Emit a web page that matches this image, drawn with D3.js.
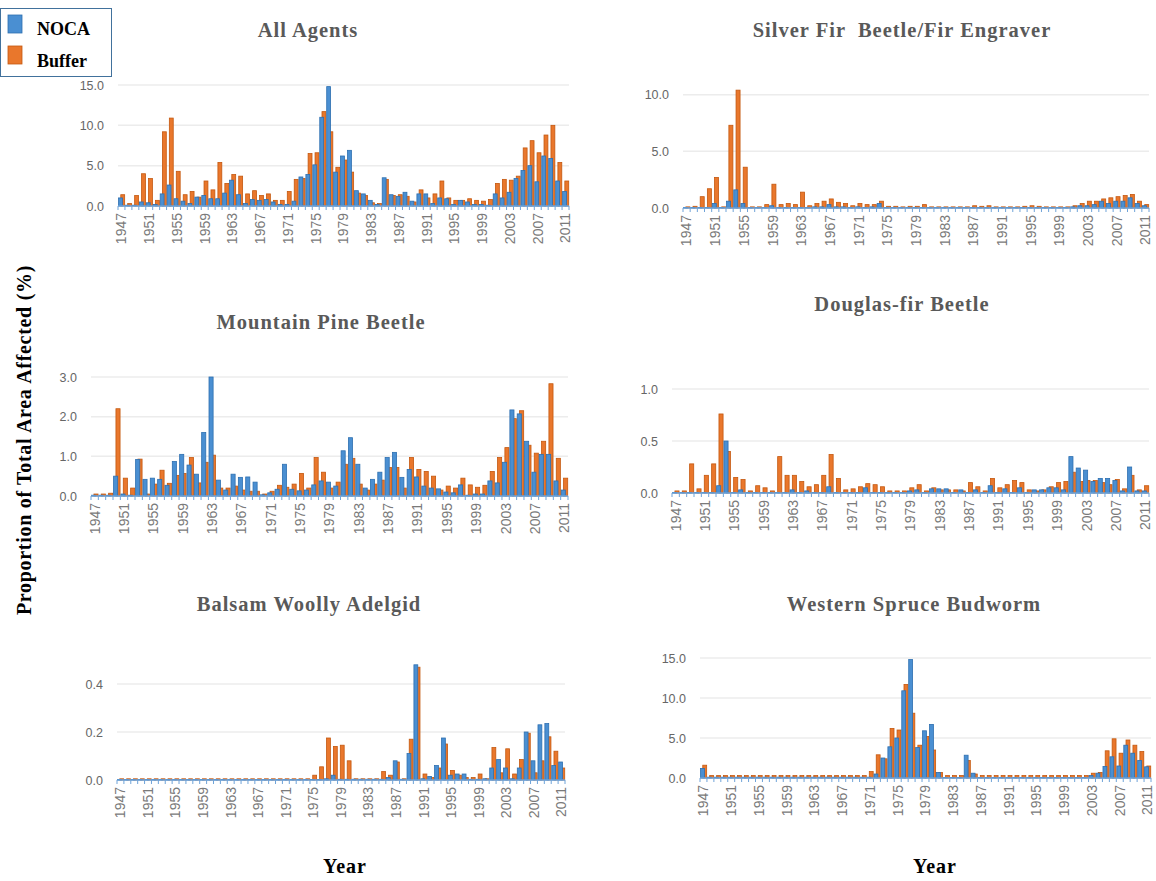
<!DOCTYPE html>
<html>
<head>
<meta charset="utf-8">
<script src="https://cdnjs.cloudflare.com/ajax/libs/d3/7.8.5/d3.min.js"></script>
<style>
  body { margin: 0; background: #fff; }
  svg { display: block; }
</style>
</head>
<body>
<svg id="chart" width="1156" height="881"></svg>
<script>
// categories
const years = d3.range(1947, 2012);
const yearLabels = [1947, 1951, 1955, 1959, 1963, 1967, 1971, 1975, 1979, 1983, 1987, 1991, 1995, 1999, 2003, 2007, 2011];

// All Agents
const allNoca = [1.0, 0.1, 0.1, 0.5, 0.4, 0.2, 1.5, 2.6, 0.9, 0.6,
  0.3, 1.1, 1.3, 0.9, 0.9, 1.6, 3.2, 1.4, 0.3, 0.8,
  0.7, 0.8, 0.5, 0.2, 0.2, 0.6, 3.6, 3.9, 5.1, 11.0,
  14.8, 4.2, 6.2, 6.9, 1.9, 1.5, 0.7, 0.2, 3.5, 1.4,
  1.2, 1.7, 0.6, 1.5, 1.5, 0.3, 1.0, 0.9, 0.2, 0.7,
  0.5, 0.2, 0.2, 0.1, 1.5, 1.0, 1.7, 3.4, 4.4, 5.0,
  3.0, 6.2, 5.9, 3.1, 1.8];
const allBuffer = [1.4, 0.3, 1.3, 4.0, 3.4, 0.7, 9.2, 10.9, 4.3, 1.4,
  1.8, 1.1, 3.1, 2.0, 5.4, 2.8, 3.9, 3.7, 1.5, 1.9,
  1.3, 1.5, 0.7, 0.7, 1.8, 3.3, 3.4, 6.5, 6.6, 11.7,
  9.2, 4.8, 5.7, 4.2, 1.6, 1.3, 0.4, 0.3, 3.3, 1.3,
  1.4, 1.2, 0.5, 2.0, 1.0, 1.5, 3.1, 1.0, 0.7, 0.7,
  0.9, 0.7, 0.6, 0.8, 2.8, 3.3, 3.2, 3.7, 7.2, 8.1,
  6.6, 8.8, 10.0, 5.4, 3.1];

// Silver Fir Beetle / Fir Engraver
const sfNoca = [0.05, 0.05, 0.05, 0.05, 0.4, 0.05, 0.6, 1.6, 0.4, 0.05,
  0.05, 0.05, 0.2, 0.05, 0.05, 0.05, 0.05, 0.05, 0.1, 0.1,
  0.3, 0.1, 0.1, 0.05, 0.1, 0.05, 0.1, 0.4, 0.05, 0.05,
  0.05, 0.05, 0.05, 0.05, 0.05, 0.05, 0.05, 0.05, 0.05, 0.05,
  0.05, 0.05, 0.05, 0.05, 0.05, 0.05, 0.05, 0.05, 0.05, 0.05,
  0.05, 0.05, 0.05, 0.05, 0.1, 0.2, 0.2, 0.3, 0.6, 0.4,
  0.6, 0.6, 0.9, 0.4, 0.2];
const sfBuffer = [0.1, 0.15, 1.0, 1.7, 2.7, 0.1, 7.3, 10.4, 3.6, 0.1,
  0.1, 0.3, 2.1, 0.3, 0.4, 0.3, 1.4, 0.2, 0.4, 0.6,
  0.8, 0.5, 0.4, 0.2, 0.4, 0.3, 0.3, 0.6, 0.15, 0.15,
  0.1, 0.15, 0.15, 0.3, 0.1, 0.1, 0.1, 0.1, 0.1, 0.1,
  0.2, 0.15, 0.2, 0.1, 0.1, 0.1, 0.1, 0.15, 0.2, 0.15,
  0.1, 0.1, 0.1, 0.1, 0.2, 0.4, 0.6, 0.6, 0.8, 0.9,
  1.0, 1.1, 1.2, 0.6, 0.3];

// Mountain Pine Beetle
const mpbNoca = [0.02, 0.02, 0.02, 0.5, 0.05, 0.02, 0.92, 0.42, 0.45, 0.42,
  0.27, 0.87, 1.05, 0.78, 0.55, 1.6, 3.0, 0.4, 0.15, 0.55,
  0.47, 0.48, 0.35, 0.03, 0.08, 0.17, 0.8, 0.17, 0.13, 0.15,
  0.28, 0.38, 0.35, 0.25, 1.14, 1.47, 0.8, 0.2, 0.42, 0.6,
  0.97, 1.1, 0.47, 0.67, 0.48, 0.25, 0.2, 0.18, 0.1, 0.08,
  0.28, 0.02, 0.05, 0.05, 0.38, 0.33, 0.85, 2.17, 2.07, 1.38,
  0.6, 1.05, 1.05, 0.38, 0.15];
const mpbBuffer = [0.05, 0.05, 0.07, 2.2, 0.45, 0.2, 0.93, 0.05, 0.3, 0.65,
  0.32, 0.52, 0.57, 0.97, 0.33, 0.85, 1.03, 0.2, 0.2, 0.25,
  0.15, 0.12, 0.12, 0.05, 0.12, 0.27, 0.22, 0.3, 0.57, 0.2,
  0.97, 0.6, 0.2, 0.35, 0.8, 0.95, 0.3, 0.15, 0.3, 0.4,
  0.72, 0.72, 0.2, 0.97, 0.67, 0.62, 0.5, 0.15, 0.25, 0.2,
  0.45, 0.28, 0.22, 0.27, 0.62, 0.97, 1.22, 1.95, 2.15, 1.28,
  1.08, 1.38, 2.83, 0.95, 0.45];

// Douglas-fir Beetle
const dfNoca = [0.005, 0.005, 0.005, 0.005, 0.005, 0.005, 0.07, 0.5, 0.005, 0.03,
  0.005, 0.005, 0.005, 0.005, 0.005, 0.005, 0.03, 0.005, 0.02, 0.005,
  0.005, 0.06, 0.005, 0.005, 0.005, 0.005, 0.05, 0.005, 0.005, 0.005,
  0.005, 0.005, 0.02, 0.03, 0.005, 0.04, 0.04, 0.04, 0.005, 0.03,
  0.005, 0.03, 0.005, 0.07, 0.005, 0.04, 0.005, 0.05, 0.005, 0.03,
  0.03, 0.05, 0.05, 0.03, 0.35, 0.24, 0.22, 0.11, 0.14, 0.14,
  0.12, 0.02, 0.25, 0.02, 0.02];
const dfBuffer = [0.02, 0.02, 0.28, 0.04, 0.17, 0.28, 0.76, 0.4, 0.15, 0.13,
  0.02, 0.07, 0.05, 0.02, 0.35, 0.17, 0.17, 0.11, 0.06, 0.08,
  0.17, 0.37, 0.14, 0.03, 0.04, 0.06, 0.09, 0.08, 0.06, 0.02,
  0.02, 0.02, 0.05, 0.08, 0.02, 0.05, 0.03, 0.03, 0.03, 0.02,
  0.1, 0.06, 0.02, 0.14, 0.05, 0.08, 0.12, 0.1, 0.03, 0.02,
  0.03, 0.06, 0.1, 0.11, 0.2, 0.11, 0.12, 0.12, 0.1, 0.08,
  0.13, 0.04, 0.17, 0.03, 0.07];

// Balsam Woolly Adelgid
const bwaNoca = [0.002, 0.002, 0.002, 0.002, 0.002, 0.002, 0.002, 0.002, 0.002, 0.002,
  0.002, 0.002, 0.002, 0.002, 0.002, 0.002, 0.002, 0.002, 0.002, 0.002,
  0.002, 0.002, 0.002, 0.002, 0.002, 0.002, 0.002, 0.002, 0.002, 0.002,
  0.005, 0.02, 0.003, 0.003, 0.003, 0.003, 0.003, 0.003, 0.003, 0.01,
  0.08, 0.003, 0.11, 0.48, 0.005, 0.015, 0.06, 0.175, 0.02, 0.025,
  0.025, 0.003, 0.003, 0.005, 0.05, 0.085, 0.05, 0.005, 0.05, 0.2,
  0.08, 0.23, 0.235, 0.06, 0.075];
const bwaBuffer = [0.005, 0.005, 0.005, 0.005, 0.005, 0.005, 0.005, 0.005, 0.005, 0.005,
  0.005, 0.005, 0.005, 0.005, 0.005, 0.005, 0.005, 0.005, 0.005, 0.005,
  0.005, 0.005, 0.005, 0.005, 0.005, 0.005, 0.005, 0.005, 0.02, 0.055,
  0.175, 0.14, 0.145, 0.08, 0.005, 0.005, 0.005, 0.005, 0.035, 0.02,
  0.075, 0.005, 0.17, 0.47, 0.025, 0.01, 0.05, 0.15, 0.04, 0.02,
  0.01, 0.01, 0.025, 0.005, 0.135, 0.03, 0.13, 0.025, 0.085, 0.195,
  0.03, 0.08, 0.18, 0.12, 0.05];

// Western Spruce Budworm
const wsbNoca = [1.2, 0.1, 0.1, 0.1, 0.1, 0.1, 0.1, 0.1, 0.1, 0.1,
  0.1, 0.1, 0.1, 0.1, 0.1, 0.1, 0.1, 0.1, 0.1, 0.1,
  0.1, 0.1, 0.1, 0.1, 0.1, 0.5, 2.5, 3.9, 5.0, 10.9,
  14.8, 3.8, 5.9, 6.7, 0.7, 0.05, 0.05, 0.05, 2.85, 0.6,
  0.05, 0.05, 0.05, 0.05, 0.05, 0.05, 0.05, 0.05, 0.05, 0.05,
  0.05, 0.05, 0.05, 0.05, 0.05, 0.05, 0.3, 0.6, 1.45, 2.65,
  1.5, 4.1, 3.1, 2.2, 1.4];
const wsbBuffer = [1.6, 0.3, 0.3, 0.3, 0.3, 0.3, 0.3, 0.3, 0.3, 0.3,
  0.3, 0.3, 0.3, 0.3, 0.3, 0.3, 0.3, 0.3, 0.3, 0.3,
  0.3, 0.3, 0.3, 0.3, 0.8, 2.9, 2.4, 6.2, 6.0, 11.7,
  8.1, 4.1, 5.2, 3.5, 0.7, 0.3, 0.3, 0.3, 2.2, 0.5,
  0.3, 0.3, 0.3, 0.3, 0.3, 0.3, 0.3, 0.3, 0.3, 0.3,
  0.3, 0.3, 0.3, 0.3, 0.3, 0.3, 0.6, 0.7, 3.4, 4.9,
  3.1, 4.75, 4.1, 3.3, 1.5];

const blue = "#4a8fd2", blueEdge = "#2d6fb0";
const orange = "#e9772c", orangeEdge = "#c4580f";
const serif = "'Liberation Serif', 'Times New Roman', serif";
const sans = "'Liberation Sans', Arial, sans-serif";

const panels = [
  {title: "All Agents", noca: allNoca, buffer: allBuffer, max: 15, ticks: [0, 5, 10, 15],
   left: 118, right: 569, base: 206, top: 85, tx: 308, ty: 37},
  {title: "Silver Fir  Beetle/Fir Engraver", noca: sfNoca, buffer: sfBuffer, max: 12, ticks: [0, 5, 10],
   left: 683, right: 1149, base: 208, top: 72, tx: 902, ty: 37},
  {title: "Mountain Pine Beetle", noca: mpbNoca, buffer: mpbBuffer, max: 3, ticks: [0, 1, 2, 3],
   left: 91, right: 568, base: 496, top: 377, tx: 321, ty: 329},
  {title: "Douglas-fir Beetle", noca: dfNoca, buffer: dfBuffer, max: 1, ticks: [0, 0.5, 1],
   left: 672, right: 1149, base: 493, top: 389, tx: 902, ty: 311},
  {title: "Balsam Woolly Adelgid", noca: bwaNoca, buffer: bwaBuffer, max: 0.5, ticks: [0, 0.2, 0.4],
   left: 117, right: 565, base: 780, top: 660, tx: 309, ty: 611},
  {title: "Western Spruce Budworm", noca: wsbNoca, buffer: wsbBuffer, max: 15, ticks: [0, 5, 10, 15],
   left: 700, right: 1151, base: 778, top: 658, tx: 914, ty: 611}
];

const svg = d3.select("#chart");

panels.forEach(function(p) {
  const x = d3.scaleBand().domain(years).range([p.left, p.right]).paddingInner(0);
  const y = d3.scaleLinear().domain([0, p.max]).range([p.base, p.top]);
  const bw = x.bandwidth();
  const g = svg.append("g");

  // gridlines
  g.selectAll("line.grid")
    .data(p.ticks.filter(function(t) { return t > 0; }))
    .enter().append("line")
    .attr("x1", p.left).attr("x2", p.right)
    .attr("y1", function(d) { return y(d); })
    .attr("y2", function(d) { return y(d); })
    .attr("stroke", "#ececec")
    .attr("stroke-width", 1.5);

  // y axis labels
  const yAxis = g.append("g")
    .attr("transform", "translate(" + p.left + ",0)")
    .call(d3.axisLeft(y).tickValues(p.ticks).tickSize(0).tickPadding(14).tickFormat(d3.format(".1f")));
  yAxis.select(".domain").remove();
  yAxis.selectAll("text")
    .attr("fill", "#666")
    .style("font-family", sans)
    .style("font-size", "12.5px");

  // bars: buffer behind, noca in front
  g.selectAll("rect.buf")
    .data(p.buffer)
    .enter().append("rect")
    .attr("x", function(d, i) { return x(years[i]) + bw * 0.4; })
    .attr("width", bw * 0.56)
    .attr("y", function(d) { return y(d); })
    .attr("height", function(d) { return y(0) - y(d); })
    .attr("fill", orange)
    .attr("stroke", orangeEdge)
    .attr("stroke-width", 0.8);

  g.selectAll("rect.noca")
    .data(p.noca)
    .enter().append("rect")
    .attr("x", function(d, i) { return x(years[i]) + bw * 0.08; })
    .attr("width", bw * 0.56)
    .attr("y", function(d) { return y(d); })
    .attr("height", function(d) { return y(0) - y(d); })
    .attr("fill", blue)
    .attr("stroke", blueEdge)
    .attr("stroke-width", 0.8);

  // category axis: baseline with a tick between every year
  g.append("line")
    .attr("x1", p.left).attr("x2", p.right)
    .attr("y1", p.base).attr("y2", p.base)
    .attr("stroke", "#6fa3d8")
    .attr("stroke-width", 1.5);
  g.selectAll("line.tick")
    .data(years.concat([null]))
    .enter().append("line")
    .attr("x1", function(d) { return d === null ? p.right : x(d); })
    .attr("x2", function(d) { return d === null ? p.right : x(d); })
    .attr("y1", p.base).attr("y2", p.base + 4)
    .attr("stroke", "#6fa3d8")
    .attr("stroke-width", 1);

  const xAxis = g.append("g")
    .attr("transform", "translate(0," + p.base + ")")
    .call(d3.axisBottom(x).tickValues(yearLabels).tickSize(0));
  xAxis.select(".domain").remove();
  xAxis.selectAll("text")
    .attr("transform", "rotate(-90)")
    .attr("x", -7)
    .attr("y", 0)
    .attr("dy", "0.35em")
    .attr("text-anchor", "end")
    .attr("fill", "#7a7a7a")
    .style("font-family", sans)
    .style("font-size", "14px");

  // panel title
  svg.append("text")
    .attr("x", p.tx).attr("y", p.ty)
    .attr("text-anchor", "middle")
    .attr("fill", "#595959")
    .style("font-family", serif)
    .style("font-weight", "bold")
    .style("font-size", "20.5px")
    .style("letter-spacing", "1px")
    .style("white-space", "pre")
    .text(p.title);
});

// shared axis titles
svg.append("text")
  .attr("transform", "translate(31,440) rotate(-90)")
  .attr("text-anchor", "middle")
  .style("font-family", serif)
  .style("font-weight", "bold")
  .style("font-size", "20px")
  .style("letter-spacing", "0.7px")
  .text("Proportion of Total Area Affected (%)");

[345, 935].forEach(function(cx) {
  svg.append("text")
    .attr("x", cx).attr("y", 873)
    .attr("text-anchor", "middle")
    .style("font-family", serif)
    .style("font-weight", "bold")
    .style("font-size", "20px")
    .style("letter-spacing", "1px")
    .text("Year");
});

// legend
const legend = svg.append("g");
legend.append("rect")
  .attr("x", 0.5).attr("y", 8.5).attr("width", 111).attr("height", 68)
  .attr("fill", "#fff").attr("stroke", "#41719c").attr("stroke-width", 1);
const legendItems = [
  {name: "NOCA", fill: blue, edge: blueEdge},
  {name: "Buffer", fill: orange, edge: orangeEdge}
];
legendItems.forEach(function(d, i) {
  legend.append("rect")
    .attr("x", 8).attr("y", 15 + i * 31).attr("width", 14).attr("height", 18)
    .attr("fill", d.fill).attr("stroke", d.edge).attr("stroke-width", 0.8);
  legend.append("text")
    .attr("x", 37).attr("y", 35 + i * 32)
    .style("font-family", serif)
    .style("font-weight", "bold")
    .style("font-size", "18px")
    .text(d.name);
});
</script>
</body>
</html>
